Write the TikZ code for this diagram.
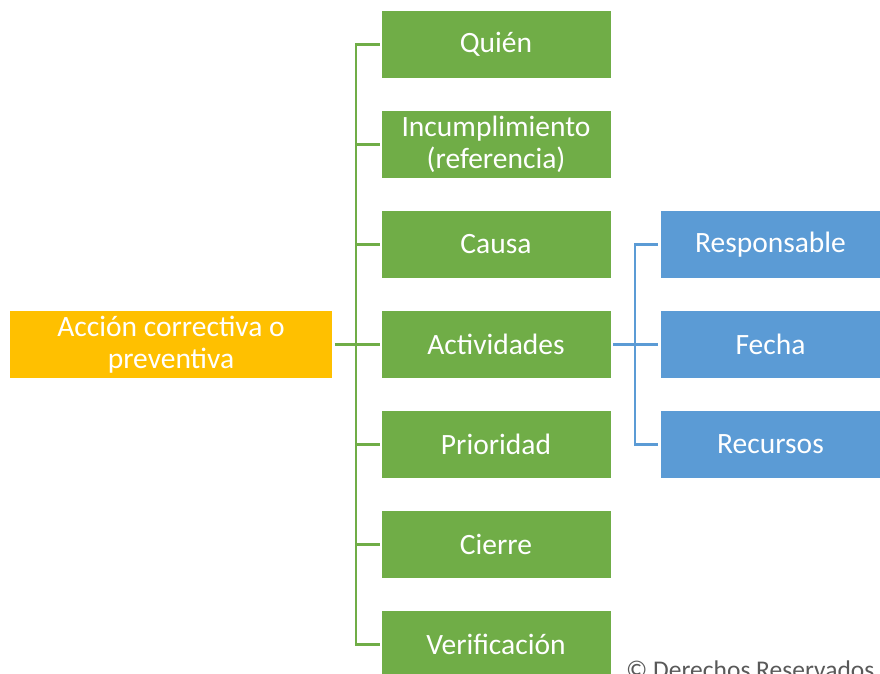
\documentclass[tikz,border=0pt]{standalone}
\usepackage{fontspec}
\setmainfont{Carlito}
\definecolor{gr}{HTML}{70AD47}
\definecolor{bl}{HTML}{5B9BD5}
\definecolor{og}{HTML}{FFC000}
\definecolor{tx}{HTML}{595959}
\begin{document}
\begin{tikzpicture}[x=1pt,y=-1pt,
  box/.style={draw=white,line width=0.6pt,text=white,align=center,inner sep=0pt,
    font=\fontsize{29.5}{32}\selectfont},
  gbox/.style={box,fill=gr,minimum width=230,minimum height=68},
  bbox/.style={box,fill=bl,minimum width=221,minimum height=68},
  gline/.style={draw=gr,line width=2.2pt},
  bline/.style={draw=bl,line width=2.2pt}]
\useasboundingbox (0,0) rectangle (880,673);
\clip (0,0) rectangle (880,673);
\node[box,fill=og,minimum width=323,minimum height=68] (root) at (171,344.5) {Acción correctiva o\\preventiva};
\node[gbox] (g1) at (496,44.5) {Quién};
\node[gbox] (g2) at (496,144.5) {Incumplimiento\\(referencia)};
\node[gbox] (g3) at (496,244.5) {Causa};
\node[gbox] (g4) at (496,344.5) {Actividades};
\node[gbox] (g5) at (496,444.5) {Prioridad};
\node[gbox] (g6) at (496,544.5) {Cierre};
\node[gbox] (g7) at (496,644.5) {Verificación};
\node[bbox] (b1) at (770.5,244.5) {Responsable};
\node[bbox] (b2) at (770.5,344.5) {Fecha};
\node[bbox] (b3) at (770.5,444.5) {Recursos};
\coordinate (gt) at (356,0);
\coordinate (bt) at (635,0);
\draw[gline] ([xshift=2]root.east) -- (gt |- root.east);
\draw[gline] ([xshift=-1]g1.west) -- (gt |- g1.west) -- (gt |- g7.west) -- ([xshift=-1]g7.west);
\foreach \n in {g2,g3,g4,g5,g6} \draw[gline] (gt |- \n.west) -- ([xshift=-1]\n.west);
\draw[bline] ([xshift=2]g4.east) -- (bt |- g4.east);
\draw[bline] ([xshift=-2]b1.west) -- (bt |- b1.west) -- (bt |- b3.west) -- ([xshift=-2]b3.west);
\draw[bline] (bt |- b2.west) -- ([xshift=-2]b2.west);
\node[anchor=base west,inner sep=0pt,text=tx,font=\fontsize{25.5}{30}\selectfont] (cr) at (626,678) {© Derechos Reservados};
\end{tikzpicture}
\end{document}
